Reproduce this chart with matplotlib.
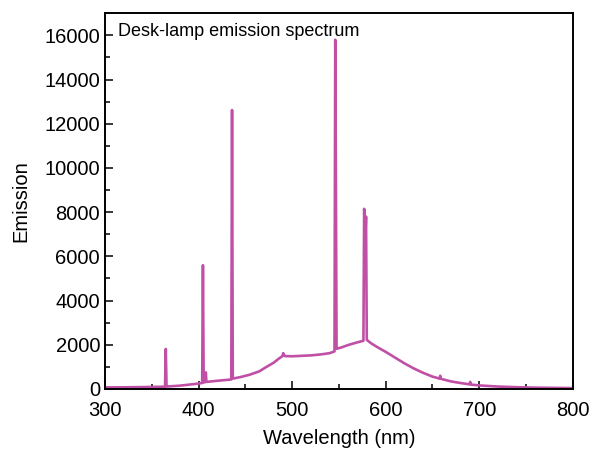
import matplotlib.pyplot as plt
from matplotlib.ticker import MultipleLocator

plt.rcParams['font.family'] = ['Liberation Sans', 'DejaVu Sans']

# Emission spectrum of a desk lamp (Hg lines on a phosphor continuum)
wavelength = [300, 320, 340, 360, 364.2, 365.0, 365.8, 380, 395, 403.9,
              404.7, 405.5, 407.2, 407.8, 408.4, 420, 435.0, 435.8, 436.6, 445,
              455, 465, 473, 480, 486, 489.5, 490.5, 492, 500, 510,
              520, 530, 540, 545.3, 546.1, 546.8, 547.5, 552, 560, 568,
              576.2, 577.0, 578.0, 579.0, 579.8, 585, 592, 600, 610, 620,
              630, 640, 650, 657.5, 658.3, 659, 670, 680, 689.5, 690.3,
              691, 700, 720, 740, 760, 780, 800]
emission = [70, 75, 85, 100, 105, 1810, 110, 150, 220, 270,
            5600, 300, 310, 750, 320, 370, 430, 12620, 470, 540,
            650, 800, 1010, 1180, 1380, 1480, 1620, 1490, 1480, 1500,
            1520, 1560, 1620, 1700, 15800, 9300, 1820, 1870, 1990, 2090,
            2180, 8150, 6400, 7800, 2220, 2050, 1870, 1680, 1420, 1160,
            930, 730, 560, 470, 600, 460, 340, 270, 210, 320,
            200, 160, 110, 80, 60, 50, 40]

fig = plt.figure(figsize=(5.93, 4.5), dpi=100)
ax = fig.add_axes([0.177, 0.1356, 0.789, 0.835])
ax.plot(wavelength, emission, color='#c050a6', lw=1.9)

ax.set_xlim(300, 800)
ax.set_ylim(0, 17000)
ax.xaxis.set_major_locator(MultipleLocator(100))
ax.xaxis.set_minor_locator(MultipleLocator(50))
ax.yaxis.set_major_locator(MultipleLocator(2000))
ax.yaxis.set_minor_locator(MultipleLocator(1000))
ax.tick_params(which='both', direction='in', top=False, right=False,
               labelsize=14.5, width=1.1)
ax.tick_params(which='major', length=6)
ax.tick_params(which='minor', length=3.5)
ax.tick_params(axis='x', which='major', pad=9)
for side in ax.spines.values():
    side.set_linewidth(1.4)

ax.set_xlabel('Wavelength (nm)', fontsize=14.5, labelpad=6)
ax.set_ylabel('Emission', fontsize=14.5, labelpad=10)
ax.text(0.027, 0.975, 'Desk-lamp emission spectrum', transform=ax.transAxes,
        fontsize=13, va='top', ha='left')

fig.savefig('out.png', dpi=100)
